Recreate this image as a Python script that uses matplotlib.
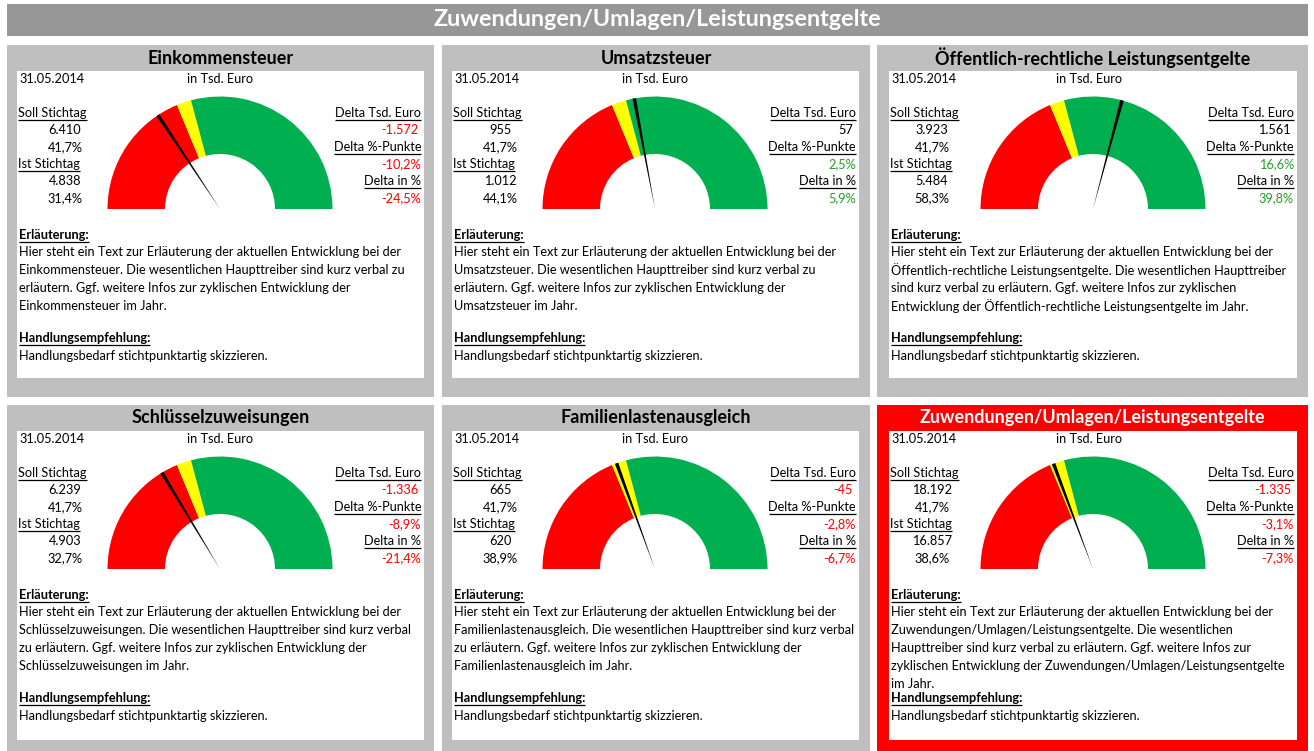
import numpy as np
import matplotlib
matplotlib.use("Agg")
import matplotlib.pyplot as plt
from matplotlib.patches import Rectangle

W, H = 1314, 751
FONT = "Lato"

# --- data ---
titles = ["Einkommensteuer", "Umsatzsteuer", "Öffentlich-rechtliche Leistungsentgelte",
          "Schlüsselzuweisungen", "Familienlastenausgleich", "Zuwendungen/Umlagen/Leistungsentgelte"]
stichtag = "31.05.2014"
soll_tsd = [6410, 955, 3923, 6239, 665, 18192]
soll_pct = [41.7, 41.7, 41.7, 41.7, 41.7, 41.7]
ist_tsd = [4838, 1012, 5484, 4903, 620, 16857]
ist_pct = [31.4, 44.1, 58.3, 32.7, 38.9, 38.6]
delta_tsd = [-1572, 57, 1561, -1336, -45, -1335]
delta_pp = [-10.2, 2.5, 16.6, -8.9, -2.8, -3.1]
delta_rel = [-24.5, 5.9, 39.8, -21.4, -6.7, -7.3]
yellow_share = 0.9  # yellow zone starts at 90% of Soll

explain = [
    ["Hier steht ein Text zur Erläuterung der aktuellen Entwicklung bei der",
     "Einkommensteuer. Die wesentlichen Haupttreiber sind kurz verbal zu",
     "erläutern. Ggf. weitere Infos zur zyklischen Entwicklung der",
     "Einkommensteuer im Jahr."],
    ["Hier steht ein Text zur Erläuterung der aktuellen Entwicklung bei der",
     "Umsatzsteuer. Die wesentlichen Haupttreiber sind kurz verbal zu",
     "erläutern. Ggf. weitere Infos zur zyklischen Entwicklung der",
     "Umsatzsteuer im Jahr."],
    ["Hier steht ein Text zur Erläuterung der aktuellen Entwicklung bei der",
     "Öffentlich-rechtliche Leistungsentgelte. Die wesentlichen Haupttreiber",
     "sind kurz verbal zu erläutern. Ggf. weitere Infos zur zyklischen",
     "Entwicklung der Öffentlich-rechtliche Leistungsentgelte im Jahr."],
    ["Hier steht ein Text zur Erläuterung der aktuellen Entwicklung bei der",
     "Schlüsselzuweisungen. Die wesentlichen Haupttreiber sind kurz verbal",
     "zu erläutern. Ggf. weitere Infos zur zyklischen Entwicklung der",
     "Schlüsselzuweisungen im Jahr."],
    ["Hier steht ein Text zur Erläuterung der aktuellen Entwicklung bei der",
     "Familienlastenausgleich. Die wesentlichen Haupttreiber sind kurz verbal",
     "zu erläutern. Ggf. weitere Infos zur zyklischen Entwicklung der",
     "Familienlastenausgleich im Jahr."],
    ["Hier steht ein Text zur Erläuterung der aktuellen Entwicklung bei der",
     "Zuwendungen/Umlagen/Leistungsentgelte. Die wesentlichen",
     "Haupttreiber sind kurz verbal zu erläutern. Ggf. weitere Infos zur",
     "zyklischen Entwicklung der Zuwendungen/Umlagen/Leistungsentgelte",
     "im Jahr."],
]
action = "Handlungsbedarf stichtpunktartig skizzieren."

# --- layout (pixels) ---
gray_x = [(7, 434), (442, 870), (877, 1308)]
white_x = [(17, 424), (452, 859), (889, 1297)]
row_top = [45, 405]
row_bottom = [397, 751]
val_center = [65, 500, 932]
unit_center = [220, 655, 1089]
gauge_cx = [220, 655, 1093]
R, R_IN = 112.5, 55

RED, YEL, GRN = "#FF0000", "#FFFF00", "#00B050"
PANEL = "#BFBFBF"
POS_TXT, NEG_TXT = "#2A9D2A", "#FF0000"


def de_int(v):
    return f"{v:,}".replace(",", ".")


def de_pct(v):
    return f"{v:.1f}%".replace(".", ",")


fig = plt.figure(figsize=(W / 100, H / 100), dpi=100)
ax = fig.add_axes([0, 0, 1, 1])
ax.set_xlim(0, W)
ax.set_ylim(H, 0)
ax.axis("off")
renderer = fig.canvas.get_renderer()


def txt(x, y, s, size=9.2, ha="left", color="black", bold=False, underline=False):
    t = ax.text(x, y, s, ha=ha, va="center", fontsize=size, color=color,
                family=FONT, fontweight="bold" if bold else "normal")
    if underline:
        bb = t.get_window_extent(renderer)
        ax.plot([bb.x0, bb.x1], [y + 6.5, y + 6.5], color=color, lw=0.9,
                solid_capstyle="butt")
    return t


# header bar
ax.add_patch(Rectangle((7, 4), 1301, 32, color="#979797", lw=0))
txt(W / 2, 20, "Zuwendungen/Umlagen/Leistungsentgelte", size=16.8, ha="center",
    color="white", bold=True)

for i in range(6):
    r, c = divmod(i, 3)
    top = row_top[r]
    gx0, gx1 = gray_x[c]
    wx0, wx1 = white_x[c]
    highlight = i == 5
    bg = RED if highlight else PANEL
    ax.add_patch(Rectangle((gx0, top), gx1 - gx0, row_bottom[r] - top, color=bg, lw=0))
    ax.add_patch(Rectangle((wx0, top + 26), wx1 - wx0, 307 + (2 if r else 0), color="white", lw=0))
    txt((gx0 + gx1) / 2, top + 13, titles[i], size=13.0, ha="center",
        color="white" if highlight else "black", bold=True)

    txt(wx0 + 2, top + 34, stichtag)
    txt(unit_center[c], top + 34, "in Tsd. Euro", ha="center")

    # left block
    txt(wx0 + 1, top + 68, "Soll Stichtag", underline=True)
    txt(val_center[c], top + 85, de_int(soll_tsd[i]), ha="center")
    txt(val_center[c], top + 102, de_pct(soll_pct[i]), ha="center")
    txt(wx0 + 1, top + 119, "Ist Stichtag", underline=True)
    txt(val_center[c], top + 136, de_int(ist_tsd[i]), ha="center")
    txt(val_center[c], top + 153, de_pct(ist_pct[i]), ha="center")

    # right block
    col = NEG_TXT if delta_tsd[i] < 0 else "black"
    pcol = NEG_TXT if delta_pp[i] < 0 else POS_TXT
    rcol = NEG_TXT if delta_rel[i] < 0 else POS_TXT
    txt(wx1 - 3, top + 68, "Delta Tsd. Euro", ha="right", underline=True)
    txt(wx1 - 6, top + 85, de_int(delta_tsd[i]), ha="right", color=col)
    txt(wx1 - 3, top + 102, "Delta %-Punkte", ha="right", underline=True)
    txt(wx1 - 3, top + 119, de_pct(delta_pp[i]), ha="right", color=pcol)
    txt(wx1 - 3, top + 136, "Delta in %", ha="right", underline=True)
    txt(wx1 - 3, top + 153, de_pct(delta_rel[i]), ha="right", color=rcol)

    # comments
    txt(wx0 + 2, top + 190, "Erläuterung:", bold=True, underline=True)
    for k, line in enumerate(explain[i]):
        txt(wx0 + 2, top + 207 + 18 * k, line)
    txt(wx0 + 2, top + 293, "Handlungsempfehlung:", bold=True, underline=True)
    txt(wx0 + 2, top + 311, action)

    # gauge: doughnut with hidden lower half, needle as a thin pie slice
    cy = top + 164
    cx = gauge_cx[c]
    gax = fig.add_axes([(cx - R) / W, 1 - (cy + R) / H, 2 * R / W, 2 * R / H])
    s = soll_pct[i]
    gax.pie([s * yellow_share, s * (1 - yellow_share), 100 - s, 100],
            colors=[RED, YEL, GRN, "none"], startangle=180, counterclock=False,
            wedgeprops=dict(width=1 - R_IN / R, linewidth=0))
    nw = 1.0
    gax.pie([ist_pct[i] - nw / 2, nw, 200 - ist_pct[i] - nw / 2],
            colors=["none", "black", "none"], startangle=180, counterclock=False,
            wedgeprops=dict(linewidth=0))
    gax.set_xlim(-1, 1)
    gax.set_ylim(-1, 1)
    gax.axis("off")

fig.savefig("out.png", dpi=100)
